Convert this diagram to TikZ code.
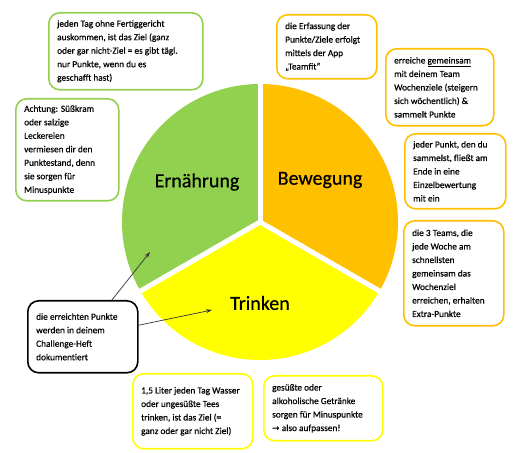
\documentclass[tikz,border=0pt]{standalone}
\usepackage{fontspec}
\setmainfont{Carlito}
\newfontfamily\boxfont{Carlito}[FakeBold=0.5]
\newfontfamily\dejavu{DejaVu Sans}
\usetikzlibrary{arrows.meta}
\definecolor{cgreen}{HTML}{92D050}
\definecolor{corange}{HTML}{FFC000}
\definecolor{cyellow}{HTML}{FFFF00}
\tikzset{
  infobox/.style={draw=#1, line width=1.6pt, rounded corners=11pt, fill=white,
    anchor=north west, inner sep=0pt},
  boxtext/.style={anchor=west, align=left, inner sep=0pt,
    font=\boxfont\fontsize{9.3}{13.5}\selectfont, text=black},
  slicelabel/.style={font=\boxfont\fontsize{20}{22}\selectfont, text=black},
  gap/.style={white, line width=5pt},
  pointer/.style={-{Stealth[length=6pt,width=4pt]}, line width=0.7pt, black!80}
}
\newcommand{\ibox}[7]{% name, color, left, top, width, height, text
  \node[infobox=#2, minimum width=#5pt, minimum height=#6pt] (#1) at (#3,{453-#4}) {};
  \node[boxtext] (#1t) at ([xshift=9pt]#1.west) {#7};}
\begin{document}
\begin{tikzpicture}[x=1pt,y=1pt]
\useasboundingbox (0,0) rectangle (515,453);
\coordinate (c) at (260,231);
\fill[cgreen] (c) -- ++(90:138) arc (90:210:138) -- cycle;
\fill[corange] (c) -- ++(90:138) arc (90:-30:138) -- cycle;
\fill[cyellow] (c) -- ++(210:138) arc (210:330:138) -- cycle;
\draw[gap] (c) -- ++(90:142);
\draw[gap] (c) -- ++(210:142);
\draw[gap] (c) -- ++(330:142);
\node[slicelabel] (ern) at (197,271) {Ernährung};
\node[slicelabel] (bew) at (320,273) {Bewegung};
\node[slicelabel] (tri) at (260,150) {Trinken};

\ibox{b1}{cgreen}{48}{12}{154}{77}{jeden Tag ohne Fertiggericht\\ auskommen, ist das Ziel (ganz\\ oder gar nicht-Ziel = es gibt tägl.\\ nur Punkte, wenn du es\\ geschafft hast)}
\ibox{b2}{cgreen}{15}{98}{103}{102}{Achtung: Süßkram\\ oder salzige\\ Leckereien\\ vermiesen dir den\\ Punktestand, denn\\ sie sorgen für\\ Minuspunkte}
\ibox{b3}{corange}{276}{14}{100}{64}{die Erfassung der\\ Punkte/Ziele erfolgt\\ mittels der App\\ „Teamfit“}
\ibox{b4}{corange}{385}{48}{108}{77}{erreiche \underline{gemeinsam}\\ mit deinem Team\\ Wochenziele (steigern\\ sich wöchentlich) \&\\ sammelt Punkte}
\ibox{b5}{corange}{404}{133}{101}{75}{jeder Punkt, den du\\ sammelst, fließt am\\ Ende in eine\\ Einzelbewertung\\ mit ein}
\ibox{b6}{corange}{403}{220}{100}{105}{die 3 Teams, die\\ jede Woche am\\ schnellsten\\ gemeinsam das\\ Wochenziel\\ erreichen, erhalten\\ Extra-Punkte}
\ibox{b7}{black}{27}{300}{110}{72}{die erreichten Punkte\\ werden in deinem\\ Challenge-Heft\\ dokumentiert}
\ibox{b8}{cyellow}{132}{373}{120}{75}{1,5 Liter jeden Tag Wasser\\ oder ungesüßte Tees\\ trinken, ist das Ziel (=\\ ganz oder gar nicht Ziel)}
\ibox{b9}{cyellow}{263}{375}{119}{65}{gesüßte oder\\ alkoholische Getränke\\ sorgen für Minuspunkte\\ {\dejavu\bfseries\small →} also aufpassen!}

\coordinate (t1) at (150,201);
\coordinate (t2) at (212,143);
\draw[pointer] (b7) -- (t1);
\draw[pointer] (b7) -- (t2);
\end{tikzpicture}
\end{document}
